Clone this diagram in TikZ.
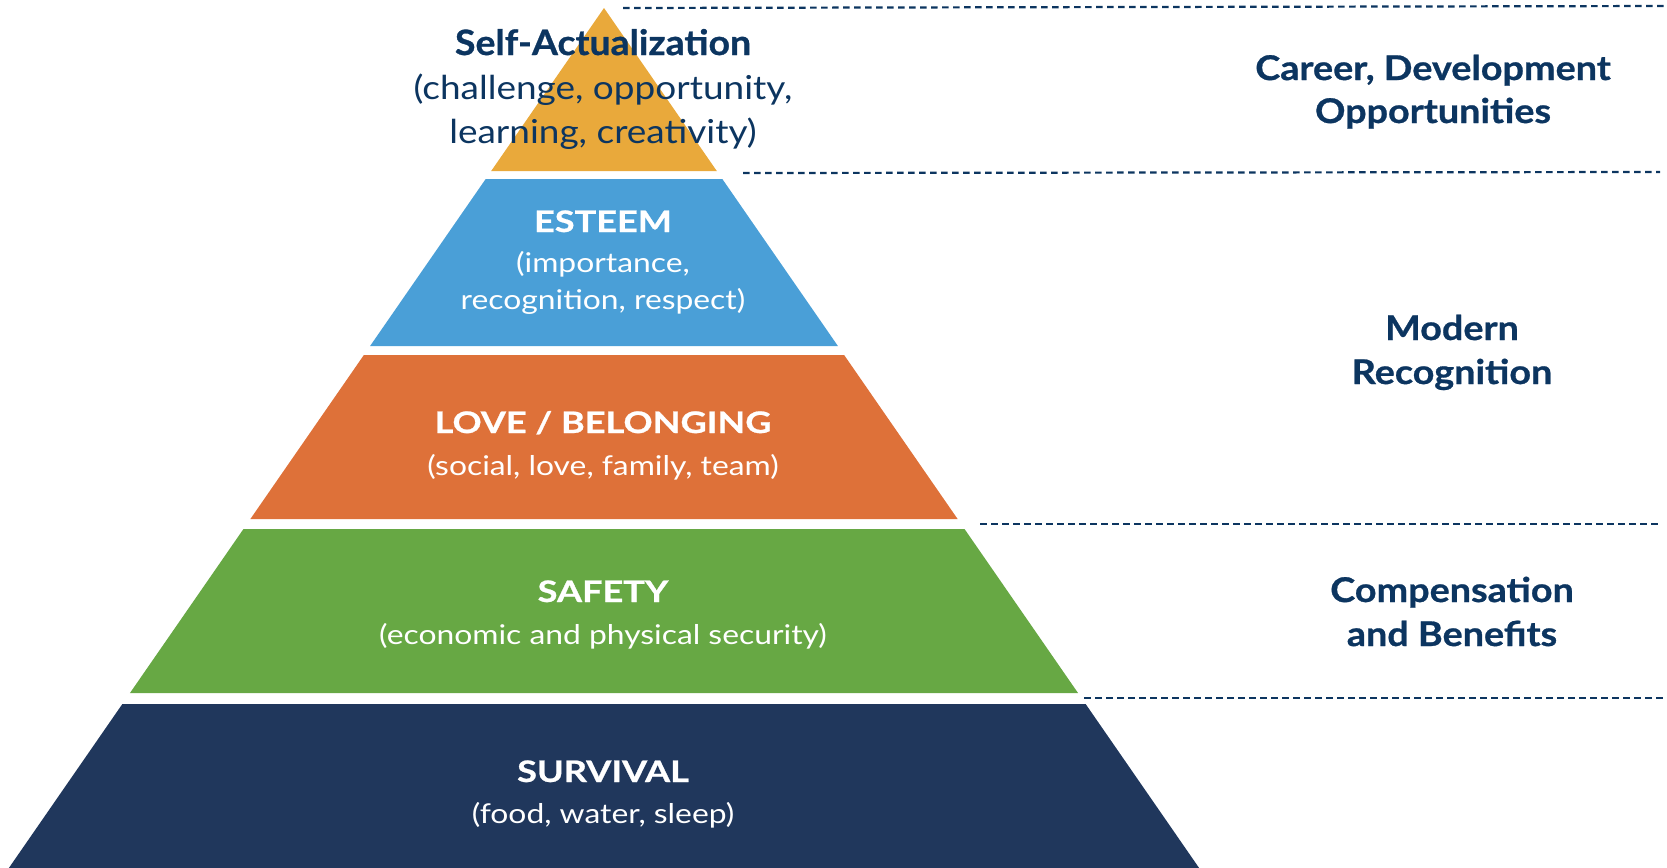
\documentclass[tikz,border=0pt]{standalone}
\usepackage{fontspec}
\setmainfont{Lato}
\newfontfamily\fTopH[FakeStretch=1.07,FakeBold=0.8]{Lato}
\newfontfamily\fTopS[FakeStretch=1.12]{Lato}
\newfontfamily\fHead[FakeStretch=1.22,FakeBold=0.8]{Lato}
\newfontfamily\fSub[FakeStretch=1.17]{Lato}
\newfontfamily\fSide[FakeStretch=1.11,FakeBold=0.8]{Lato}
\definecolor{gold}{HTML}{E9A93B}
\definecolor{skyb}{HTML}{4A9FD7}
\definecolor{orng}{HTML}{DE7139}
\definecolor{grn}{HTML}{67A844}
\definecolor{navyb}{HTML}{20375C}
\definecolor{txtnavy}{HTML}{0C3560}
\newcommand{\tierfill}[3]{%
  \fill[#3] ({604-0.692*(#1-8)},#1) -- ({604+0.692*(#1-8)},#1) -- ({604+0.692*(#2-8)},#2) -- ({604-0.692*(#2-8)},#2) -- cycle;}
\tikzset{
  head/.style={anchor=base, inner sep=0pt, font=\fHead\fontsize{14.8}{16}\selectfont\bfseries, text=white},
  sub/.style={anchor=base, inner sep=0pt, font=\fSub\fontsize{13.6}{16}\selectfont, text=white},
  toph/.style={anchor=base, inner sep=0pt, font=\fTopH\fontsize{17.5}{20}\selectfont\bfseries, text=txtnavy},
  tops/.style={anchor=base, inner sep=0pt, font=\fTopS\fontsize{16.5}{20}\selectfont, text=txtnavy},
  side/.style={anchor=base, inner sep=0pt, font=\fSide\fontsize{17}{20}\selectfont\bfseries, text=txtnavy},
  sep/.style={draw=txtnavy, line width=1.1pt, dash pattern=on 3.3pt off 2.2pt}
}
\begin{document}
\begin{tikzpicture}[x=0.5pt,y=-0.5pt]
\useasboundingbox (0,0) rectangle (1667,868);
% pyramid tiers
\fill[gold] (604,8) -- ({604+0.692*(171-8)},171) -- ({604-0.692*(171-8)},171) -- cycle;
\tierfill{179}{346}{skyb}
\tierfill{355}{519}{orng}
\tierfill{529}{693}{grn}
\tierfill{704}{868}{navyb}
% separators
\coordinate (d1a) at (623,8);   \coordinate (d1b) at (1667,6);
\coordinate (d2a) at (743,173); \coordinate (d2b) at (1660,172);
\coordinate (d3a) at (980,524); \coordinate (d3b) at (1660,524);
\coordinate (d4a) at (1084,698);\coordinate (d4b) at (1667,698);
\draw[sep] (d1a) -- (d1b);
\draw[sep] (d2a) -- (d2b);
\draw[sep] (d3a) -- (d3b);
\draw[sep] (d4a) -- (d4b);
% tier texts
\node[toph] (sa) at (603,55) {Self-Actualization};
\node[tops] (sa1) at (603,99) {(challenge, opportunity,};
\node[tops] (sa2) at (603,143) {learning, creativity)};
\node[head] (es) at (603,232) {ESTEEM};
\node[sub] (es1) at (603,272) {(importance,};
\node[sub] (es2) at (603,309) {recognition, respect)};
\node[head] (lb) at (603,433) {LOVE / BELONGING};
\node[sub] (lb1) at (603,475) {(social, love, family, team)};
\node[head] (sf) at (603,602) {SAFETY};
\node[sub] (sf1) at (603,644) {(economic and physical security)};
\node[head] (sv) at (603,782) {SURVIVAL};
\node[sub] (sv1) at (603,823) {(food, water, sleep)};
% side labels
\node[side] (c1) at (1433,80) {Career, Development};
\node[side] (c2) at (1433,123) {Opportunities};
\node[side] (m1) at (1452,340) {Modern};
\node[side] (m2) at (1452,384) {Recognition};
\node[side] (p1) at (1452,602) {Compensation};
\node[side] (p2) at (1452,646) {and Benefits};
\end{tikzpicture}
\end{document}
